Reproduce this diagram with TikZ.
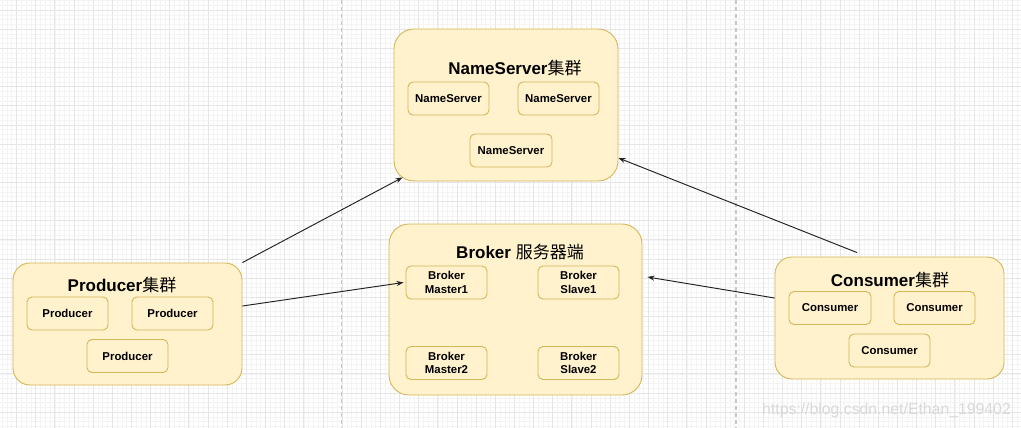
\documentclass[tikz,border=0pt]{standalone}
\usepackage{fontspec}
\setmainfont{Liberation Sans}
\newfontfamily\cjk{Noto Sans CJK SC}
\usetikzlibrary{arrows.meta,calc}
\definecolor{boxfill}{HTML}{FFF2CC}
\definecolor{boxdraw}{HTML}{D6B656}
\definecolor{gridmin}{HTML}{F4F4F4}
\definecolor{gridmaj}{HTML}{E6E6E6}
\definecolor{sepline}{HTML}{C8C8C8}
\definecolor{arrowc}{HTML}{222222}
\definecolor{wmark}{HTML}{D9D9D9}
\tikzset{
  cluster/.style={draw=boxdraw, fill=boxfill, line width=0.9pt, rounded corners=20pt, inner sep=0pt},
  item/.style={draw=boxdraw, fill=boxfill, line width=0.9pt, rounded corners=5pt, inner sep=0pt,
    minimum width=81pt, minimum height=33pt, align=center,
    font=\fontsize{11.4}{13.5}\selectfont\bfseries},
  ctitle/.style={font=\fontsize{17}{20}\selectfont\bfseries, inner sep=0pt},
  conn/.style={draw=arrowc, line width=0.95pt, -{Stealth[length=7pt,width=5pt]}},
  sep/.style={draw=sepline, line width=1.2pt, dash pattern=on 4pt off 3pt},
}
\begin{document}
\begin{tikzpicture}[x=1pt,y=-1pt]
\useasboundingbox (0,0) rectangle (1021,428);
\fill[white] (0,0) rectangle (1021,428);
% minor grid
\foreach \i in {-4,...,214} {
  \draw[gridmin, line width=0.5pt] ({16.5+\i*4.7875},0) -- ++(0,428);
}
\foreach \i in {-3,...,88} {
  \draw[gridmin, line width=0.5pt] (0,{10+\i*4.7875}) -- ++(1021,0);
}
% major grid
\foreach \i in {-1,...,53} {
  \draw[gridmaj, line width=0.8pt] ({16.5+\i*19.15},0) -- ++(0,428);
}
\foreach \i in {-1,...,22} {
  \draw[gridmaj, line width=0.8pt] (0,{10+\i*19.15}) -- ++(1021,0);
}
% separators
\draw[sep] (341.5,0) -- (341.5,428);
\draw[sep] (736,0) -- (736,428);

% NameServer cluster
\node[cluster, minimum width=224pt, minimum height=152pt] (ns) at (506,105) {};
\node[ctitle] (nst) at (515,68) {NameServer{\cjk\mdseries 集群}};
\node[item] (ns1) at (448.5,98.5) {NameServer};
\node[item] (ns2) at (558.5,98.5) {NameServer};
\node[item, minimum width=82pt] (ns3) at (511,150.5) {NameServer};

% Broker
\node[cluster, minimum width=253pt, minimum height=171pt] (br) at (515.5,309.5) {};
\node[ctitle] (brt) at (520,252) {Broker {\cjk\mdseries 服务器端}};
\node[item] (m1) at (446.5,282.5) {Broker\\Master1};
\node[item] (s1) at (578.5,282.5) {Broker\\Slave1};
\node[item] (m2) at (446.5,363) {Broker\\Master2};
\node[item] (s2) at (578.5,363) {Broker\\Slave2};

% Producer
\node[cluster, rounded corners=17pt, minimum width=229pt, minimum height=122pt] (pr) at (127.5,324) {};
\node[ctitle] (prt) at (122,285) {Producer{\cjk\mdseries 集群}};
\node[item] (p1) at (67.5,313.5) {Producer};
\node[item] (p2) at (172.5,313.5) {Producer};
\node[item] (p3) at (127.5,356) {Producer};

% Consumer
\node[cluster, rounded corners=17pt, minimum width=229pt, minimum height=122pt] (co) at (889.5,318) {};
\node[ctitle] (cot) at (890,280) {Consumer{\cjk\mdseries 集群}};
\node[item, minimum width=82pt] (c1) at (830,308) {Consumer};
\node[item] (c2) at (934.5,308) {Consumer};
\node[item] (c3) at (889.5,350.5) {Consumer};

% connectors
\coordinate (a1s) at (pr.north east);
\coordinate (a1e) at ($(ns.south west)+(9,-4)$);
\coordinate (a2s) at ($(pr.east)+(0,-18)$);
\coordinate (a2e) at ($(m1.west)+(-2,0)$);
\coordinate (a3s) at ($(co.north)+(-32.5,-4)$);
\coordinate (a3e) at ($(ns.east)+(0,53)$);
\coordinate (a4s) at ($(co.west)+(0,-20)$);
\coordinate (a4e) at ($(br.east)+(5,-32.5)$);
\draw[conn] (a1s) -- (a1e);
\draw[conn] (a2s) -- (a2e);
\draw[conn] (a3s) -- (a3e);
\draw[conn] (a4s) -- (a4e);

% watermark
\node[text=wmark, font=\fontsize{15.8}{18}\selectfont, inner sep=0pt] (wm) at (886.5,410) {https://blog.csdn.net/Ethan\_199402};
\end{tikzpicture}
\end{document}
